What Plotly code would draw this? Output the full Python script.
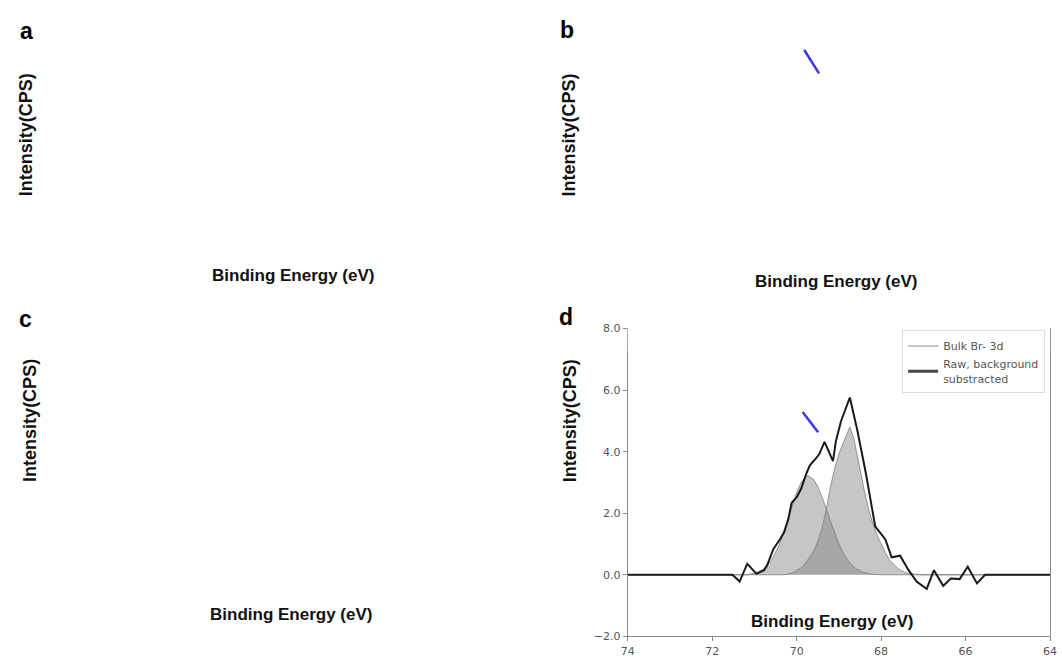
import plotly.graph_objects as go

W, H = 1062, 661

# ---- data (panel d) ----
raw_be = [74.0, 71.52, 71.35, 71.17, 70.95, 70.77, 70.70, 70.55, 70.39, 70.30, 70.20,
          70.12, 69.99, 69.89, 69.77, 69.69, 69.55, 69.46, 69.34, 69.14, 69.07, 68.95,
          68.74, 68.56, 68.36, 68.14, 68.02, 67.90, 67.75, 67.55, 67.35, 67.16, 66.92,
          66.75, 66.53, 66.35, 66.14, 65.95, 65.73, 65.54, 64.0]
raw_int = [0.0, 0.0, -0.22, 0.36, 0.03, 0.15, 0.31, 0.84, 1.16, 1.37, 1.80,
           2.33, 2.54, 2.81, 3.29, 3.55, 3.77, 3.93, 4.32, 3.69, 4.35, 4.99,
           5.76, 4.67, 3.29, 1.57, 1.36, 1.15, 0.57, 0.62, 0.15, -0.22, -0.46,
           0.15, -0.36, -0.12, -0.14, 0.26, -0.28, 0.0, 0.0]

peak1_be = [74.0, 71.2, 71.0, 70.8, 70.6, 70.4, 70.2, 70.0, 69.9, 69.8, 69.73, 69.6,
            69.5, 69.4, 69.3, 69.2, 69.1, 69.0, 68.9, 68.8, 68.7, 68.6, 68.4, 68.2,
            68.0, 64.0]
peak1_int = [0.0, 0.0, 0.05, 0.17, 0.46, 1.01, 1.82, 2.67, 2.99, 3.18, 3.22, 3.10,
             2.87, 2.54, 2.16, 1.75, 1.36, 1.01, 0.72, 0.49, 0.32, 0.20, 0.07, 0.02,
             0.0, 0.0]

peak2_be = [74.0, 70.3, 70.1, 69.9, 69.8, 69.7, 69.6, 69.5, 69.4, 69.3, 69.2, 69.1,
            69.0, 68.9, 68.8, 68.74, 68.65, 68.6, 68.5, 68.4, 68.3, 68.2, 68.1, 68.0,
            67.9, 67.8, 67.7, 67.6, 67.5, 67.4, 67.2, 67.0, 64.0]
peak2_int = [0.0, 0.0, 0.06, 0.22, 0.36, 0.55, 0.76, 1.08, 1.50, 2.10, 2.85, 3.45,
             3.92, 4.28, 4.62, 4.80, 4.45, 4.10, 3.40, 2.75, 2.15, 1.68, 1.30, 0.98,
             0.72, 0.48, 0.33, 0.20, 0.12, 0.06, 0.02, 0.0, 0.0]

slash_d_be = [69.86, 69.49]
slash_d_int = [5.29, 4.63]
slash_b_be = [69.82, 69.47]
slash_b_int = [7.78, 7.02]

x_ticks = [74, 72, 70, 68, 66, 64]
y_ticks = [-2, 0, 2, 4, 6, 8]

panel_letters = ["a", "b", "c", "d"]
y_title = "Intensity(CPS)"
x_title = "Binding Energy (eV)"
legend_bulk = "Bulk Br- 3d"
legend_raw = "Raw, background<br>substracted"


def px(x):
    return x / W


def py(y):
    return 1 - y / H


fig = go.Figure()

fill = "rgba(128,128,128,0.45)"
outline = dict(color="rgba(120,120,120,0.75)", width=1)

fig.add_trace(go.Scatter(x=peak1_be, y=peak1_int, mode="lines", fill="tozeroy",
                         fillcolor=fill, line=outline, showlegend=False,
                         xaxis="x", yaxis="y"))
fig.add_trace(go.Scatter(x=peak2_be, y=peak2_int, mode="lines", fill="tozeroy",
                         fillcolor=fill, line=outline, showlegend=False,
                         xaxis="x", yaxis="y"))
fig.add_trace(go.Scatter(x=raw_be, y=raw_int, mode="lines",
                         line=dict(color="#1a1a1a", width=2), showlegend=False,
                         xaxis="x", yaxis="y"))
fig.add_trace(go.Scatter(x=slash_d_be, y=slash_d_int, mode="lines",
                         line=dict(color="#3a3ae0", width=2.5), showlegend=False,
                         xaxis="x", yaxis="y"))
fig.add_trace(go.Scatter(x=slash_b_be, y=slash_b_int, mode="lines",
                         line=dict(color="#3a3ae0", width=2.5), showlegend=False,
                         xaxis="x2", yaxis="y2"))
# legend-only entries
fig.add_trace(go.Scatter(x=[None], y=[None], mode="lines", name=legend_bulk,
                         line=dict(color="#888888", width=1), xaxis="x", yaxis="y"))
fig.add_trace(go.Scatter(x=[None], y=[None], mode="lines", name=legend_raw,
                         line=dict(color="#444444", width=3), xaxis="x", yaxis="y"))

axis_common = dict(showline=True, linecolor="#8a8a8a", linewidth=1, mirror=True,
                   ticks="outside", ticklen=4, tickcolor="#8a8a8a",
                   showgrid=False, zeroline=False, ticklabeloverflow="allow",
                   tickfont=dict(family="DejaVu Sans", size=11, color="#555555"))

fig.update_layout(
    width=W, height=H,
    margin=dict(l=0, r=0, t=0, b=0),
    paper_bgcolor="white", plot_bgcolor="white",
    xaxis=dict(domain=[px(629), px(1057)], range=[74, 64], tickvals=x_ticks,
               anchor="y", **axis_common),
    yaxis=dict(domain=[py(643), py(329)], range=[-2, 8], tickvals=y_ticks,
               tickformat=".1f", anchor="x", **axis_common),
    xaxis2=dict(domain=[px(629), px(1057)], range=[74, 64], visible=False, anchor="y2"),
    yaxis2=dict(domain=[py(352), py(38)], range=[-2, 8], visible=False, anchor="x2"),
    legend=dict(x=px(1052), y=py(331), xanchor="right", yanchor="top",
                bgcolor="white", bordercolor="#dddddd", borderwidth=1,
                font=dict(family="DejaVu Sans", size=11, color="#555555"),
                itemwidth=30, tracegroupgap=0),
)

letter_font = dict(family="Liberation Sans", size=23, color="black", weight="bold")
xlabel_font = dict(family="Liberation Sans", size=17, color="#111111", weight="bold")
ylabel_font = dict(family="Liberation Sans", size=18, color="#111111", weight="bold")

letter_pos = [(19.5, 25), (567, 24), (18.5, 319), (566, 317)]
ylabel_pos = [(19.5, 131.5), (569, 131.5), (22.5, 423), (570, 423)]
xlabel_pos = [(289.5, 275), (840, 281), (287.5, 621), (836.5, 628)]

annotations = []
for letter, (lx, ly) in zip(panel_letters, letter_pos):
    annotations.append(dict(text=letter, x=px(lx), y=py(ly), xref="paper", yref="paper",
                            showarrow=False, xanchor="center", yanchor="middle",
                            font=letter_font))
for (lx, ly) in ylabel_pos:
    annotations.append(dict(text=y_title, x=px(lx), y=py(ly), xref="paper", yref="paper",
                            showarrow=False, xanchor="center", yanchor="middle",
                            textangle=-90, font=ylabel_font))
for (lx, ly) in xlabel_pos:
    annotations.append(dict(text=x_title, x=px(lx), y=py(ly), xref="paper", yref="paper",
                            showarrow=False, xanchor="center", yanchor="middle",
                            font=xlabel_font))
fig.update_layout(annotations=annotations)

fig.write_html(
    "out.html",
    config={"displayModeBar": False},
    post_script=(
        "document.documentElement.style.margin='0';"
        "document.documentElement.style.overflow='hidden';"
        "document.body.style.margin='0';"
        "document.body.style.overflow='hidden';"
    ),
)
